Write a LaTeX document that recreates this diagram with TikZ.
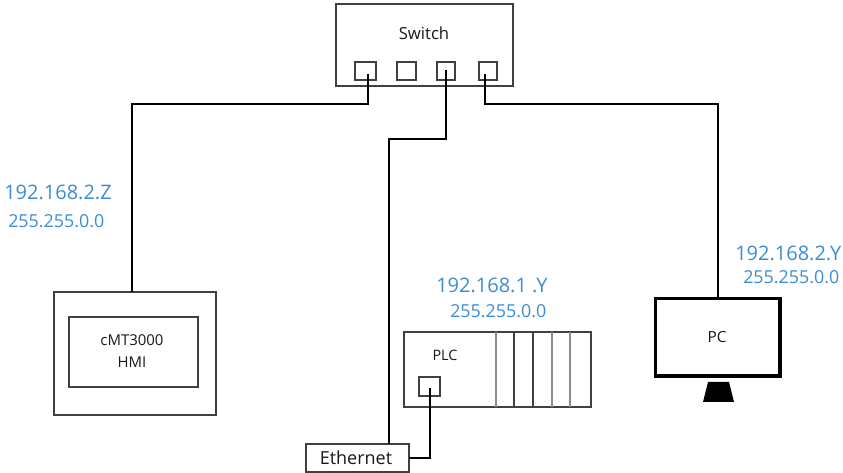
\documentclass[tikz,border=0pt]{standalone}
\usepackage{fontspec}
\setmainfont{Open Sans}
\definecolor{ipblue}{HTML}{3A8DD4}
\definecolor{boxgrey}{HTML}{404040}
\tikzset{
  x=0.75pt,y=-0.75pt,
  box/.style={draw=boxgrey,line width=0.9pt,fill=white,inner sep=0pt,outer sep=0pt},
  wire/.style={draw=black,line width=1.8pt,line join=miter},
  lab/.style={inner sep=0pt,text=black!90},
  ipbig/.style={inner sep=0pt,font=\fontsize{15}{17}\selectfont,text=ipblue},
  ipsmall/.style={inner sep=0pt,font=\fontsize{13.4}{15}\selectfont,text=ipblue},
  divider/.style={draw=boxgrey,line width=0.8pt},
  softdivider/.style={draw=black!45,line width=1.2pt},
}
\newcommand{\pxbox}[5][box]{\node[#1,minimum width=#4*0.75pt,minimum height=#5*0.75pt,anchor=north west] (#2) at #3 {};}
\begin{document}
\begin{tikzpicture}
\useasboundingbox (0,0) rectangle (843,473);
% switch
\pxbox{switch}{(336,4)}{177}{82}
\node[lab,font=\fontsize{12.5}{14}\selectfont] (switchlab) at (424,33) {Switch};
\pxbox{pa}{(355,62)}{21}{18}
\pxbox{pb}{(397,62)}{19}{18}
\pxbox{pc}{(437,62)}{18}{18}
\pxbox{pd}{(479,62)}{18}{18}
\coordinate (pae) at (368,74);
\coordinate (pce) at (446,70);
\coordinate (pde) at (485,74);
% HMI
\pxbox{hmi}{(54,292)}{162}{123}
\pxbox{hmiin}{(69,317)}{129}{70}
\node[lab,align=center,font=\fontsize{11.2}{17}\selectfont] (hmilab) at (132,351) {cMT3000\\HMI};
% PLC
\pxbox{plc}{(404,332)}{187}{75}
\node[lab,font=\fontsize{10.8}{12}\selectfont] (plclab) at (445,355) {PLC};
\foreach \i/\xx/\st in {a/496/softdivider,b/514/divider,c/533/divider,d/552/softdivider,e/570/softdivider}{
  \coordinate (t\i) at (\xx,332);
  \coordinate (u\i) at (\xx,407);
  \draw[\st] (t\i) -- (u\i);
}
\pxbox{pp}{(419,377)}{21}{19}
\coordinate (ppe) at (430,388);
% PC
\node[draw=black,line width=2.4pt,fill=white,minimum width=124.5*0.75pt,minimum height=77.5*0.75pt,anchor=north west,inner sep=0pt,outer sep=0pt] (pcbox) at (655.5,298.5) {};
\node[lab,font=\fontsize{11.5}{13}\selectfont] (pclab) at (717,337) {PC};
\fill[black] (708,382) -- (729,382) -- (734,402) -- (703,402) -- cycle;
% Ethernet
\pxbox{eth}{(306,444)}{103}{28}
\node[lab,font=\fontsize{13.5}{15}\selectfont] (ethlab) at (356,458) {Ethernet};
% wires
\coordinate (c1) at (132,104);
\coordinate (c3a) at (446,139);
\coordinate (c3b) at (389,139);
\coordinate (c4) at (718,104);
\draw[wire] (pae) -- (pae |- c1) -- (c1) -- (c1 |- hmi.north);
\draw[wire] (pce) -- (c3a) -- (c3b) -- (c3b |- eth.north);
\draw[wire] (pde) -- (pde |- c4) -- (c4) -- (c4 |- pcbox.north);
\draw[wire] (ppe) -- (ppe |- eth.east) -- (eth.east);
% addresses
\node[ipbig,anchor=west] (ipa) at (4,192) {192.168.2.Z};
\node[ipsmall,anchor=west] (ma) at (8,221) {255.255.0.0};
\node[ipbig,anchor=west] (ipb) at (436,285) {192.168.1 .Y};
\node[ipsmall,anchor=west] (mb) at (450,311) {255.255.0.0};
\node[ipbig,anchor=west] (ipc) at (735,253) {192.168.2.Y};
\node[ipsmall,anchor=west] (mc) at (743,277) {255.255.0.0};
\end{tikzpicture}
\end{document}
